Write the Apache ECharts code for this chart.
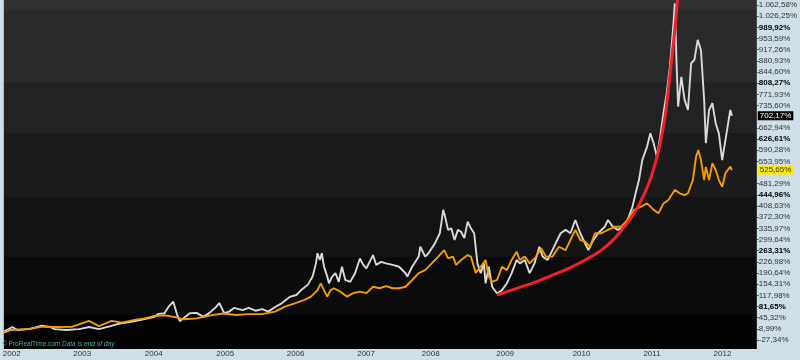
<!DOCTYPE html>
<html><head><meta charset="utf-8">
<script src="https://cdn.jsdelivr.net/npm/echarts@6/dist/echarts.min.js"></script>
<style>html,body{margin:0;padding:0;background:#cfdfe7;overflow:hidden}#c{width:800px;height:360px}</style>
</head><body><div id="c"></div>
<script>
// ---- data (decimal years / % change) ----
const yearLabels = [2002,2003,2004,2005,2006,2007,2008,2009,2010,2011,2012];
const yearTickAt = [2002.000,2002.992,2003.997,2005.003,2005.994,2006.986,2007.895,2008.942,2010.017,2011.008,2012.000];
const yTicks = [-27.34,8.99,45.32,81.65,117.98,154.31,190.64,226.98,263.31,299.64,335.97,372.30,408.63,444.96,481.29,553.95,590.28,626.61,662.94,735.60,771.93,808.27,844.60,880.93,917.26,953.59,989.92,1026.25,1062.58];
const majorTicks = [81.65,263.31,444.96,626.61,808.27,989.92];

const silverT = [2001.890,2002.010,2002.079,2002.262,2002.423,2002.537,2002.606,2002.767,2002.950,2003.088,2003.226,2003.364,2003.501,2003.680,2003.818,2004.011,2004.052,2004.149,2004.213,2004.273,2004.328,2004.365,2004.420,2004.507,2004.603,2004.696,2004.782,2004.879,2004.920,2004.989,2005.058,2005.127,2005.247,2005.333,2005.430,2005.522,2005.609,2005.705,2005.798,2005.912,2006.004,2006.073,2006.164,2006.233,2006.280,2006.302,2006.335,2006.362,2006.394,2006.439,2006.463,2006.508,2006.555,2006.601,2006.646,2006.693,2006.762,2006.831,2006.899,2006.945,2006.990,2007.083,2007.128,2007.197,2007.266,2007.358,2007.450,2007.541,2007.565,2007.634,2007.726,2007.748,2007.817,2007.863,2007.954,2008.023,2008.047,2008.070,2008.092,2008.139,2008.185,2008.230,2008.277,2008.322,2008.368,2008.415,2008.460,2008.506,2008.552,2008.598,2008.643,2008.667,2008.712,2008.759,2008.828,2008.897,2008.966,2009.034,2009.103,2009.149,2009.218,2009.287,2009.355,2009.424,2009.470,2009.539,2009.607,2009.676,2009.723,2009.792,2009.861,2009.930,2009.999,2010.044,2010.113,2010.182,2010.251,2010.343,2010.389,2010.457,2010.526,2010.618,2010.664,2010.733,2010.778,2010.825,2010.871,2010.939,2010.985,2011.032,2011.077,2011.123,2011.169,2011.215,2011.260,2011.307,2011.329,2011.352,2011.376,2011.421,2011.467,2011.514,2011.559,2011.605,2011.651,2011.697,2011.742,2011.766,2011.811,2011.858,2011.904,2011.949,2011.996,2012.041,2012.110,2012.133];
const silverPct = [0,15,5,9,19,15,8,5,8,15,8,16,25,32,38,48,57,60,83,97,54,34,44,60,61,48,61,81,93,60,65,77,70,77,68,73,65,80,92,113,119,135,152,179,222,255,233,255,211,179,157,179,190,162,211,168,162,190,238,217,206,249,217,227,222,217,211,190,179,211,244,276,244,255,287,320,357,396,379,331,336,298,331,325,304,358,336,320,222,190,222,157,211,146,124,135,157,190,233,222,233,190,222,276,244,233,265,298,320,331,320,363,320,298,265,298,320,341,363,341,331,341,363,406,450,493,558,602,645,613,569,634,710,775,862,992,1068,884,732,829,754,721,873,884,949,916,754,613,721,743,678,645,558,623,721,702.17];

const goldT = [2001.890,2001.986,2002.216,2002.441,2002.629,2002.854,2003.088,2003.226,2003.405,2003.543,2003.731,2003.869,2004.007,2004.145,2004.282,2004.420,2004.603,2004.782,2004.971,2005.154,2005.333,2005.522,2005.705,2005.843,2005.981,2006.118,2006.210,2006.302,2006.348,2006.394,2006.439,2006.486,2006.532,2006.624,2006.715,2006.807,2006.899,2006.990,2007.083,2007.175,2007.266,2007.358,2007.450,2007.541,2007.634,2007.726,2007.817,2007.909,2008.001,2008.084,2008.139,2008.208,2008.253,2008.322,2008.415,2008.460,2008.529,2008.598,2008.667,2008.712,2008.759,2008.828,2008.897,2008.966,2009.034,2009.103,2009.149,2009.218,2009.287,2009.379,2009.448,2009.516,2009.607,2009.700,2009.792,2009.861,2009.930,2009.999,2010.067,2010.136,2010.205,2010.296,2010.388,2010.480,2010.572,2010.664,2010.756,2010.847,2010.939,2011.032,2011.100,2011.169,2011.238,2011.329,2011.398,2011.467,2011.514,2011.583,2011.628,2011.660,2011.697,2011.742,2011.766,2011.811,2011.858,2011.904,2011.949,2011.996,2012.041,2012.110,2012.133];
const goldPct = [-3,5,8,16,15,16,35,18,35,29,38,43,51,53,48,40,43,52,59,54,57,57,65,81,92,103,114,135,157,135,114,135,141,130,114,125,130,125,146,141,148,141,141,146,168,190,200,222,244,265,238,244,217,233,249,244,191,211,233,179,162,168,211,200,233,260,233,244,222,244,271,244,244,276,265,298,331,298,293,276,320,320,331,341,341,363,396,406,417,396,385,417,428,461,450,444,450,493,569,591,558,493,536,493,548,526,493,471,515,537,525.65];

const curveT = [2008.828,2009.149,2009.379,2009.607,2009.838,2010.067,2010.296,2010.480,2010.618,2010.756,2010.847,2010.963,2011.054,2011.123,2011.192,2011.238,2011.284,2011.329,2011.366,2011.394];
const curvePct = [119,144,162,184,206,233,265,303,341,385,423,482,548,613,699,786,884,981,1079,1160];

// ---- styling ----
function hasFont(name){
  const c=document.createElement('canvas').getContext('2d');
  c.font='60px monospace'; const a=c.measureText('mmmwwwlli1.062,58%').width;
  c.font="60px '"+name+"',monospace"; const b=c.measureText('mmmwwwlli1.062,58%').width;
  return Math.abs(a-b)>0.5;
}
const narrow = hasFont('Liberation Sans Narrow') ? "'Liberation Sans Narrow'" : (hasFont('Arial Narrow') ? "'Arial Narrow'" : null);
const FONT = narrow ? narrow+",sans-serif" : "'Liberation Sans',sans-serif";
const FS = narrow ? 9 : 8;
const Y_MIN = -56.6, Y_MAX = 1078.85;
const bandStops = [[Y_MAX,1046,'#313131'],[1046,812,'#2a2a2a'],[812,646,'#222222'],[646,438,'#1b1b1b'],[438,243,'#131313'],[243,54,'#0b0b0b'],[54,Y_MIN,'#020202']];

function fmt(v){
  const neg = v < 0; let s = Math.abs(v).toFixed(2); let [i,d] = s.split('.');
  i = i.replace(/\B(?=(\d{3})+(?!\d))/g,'.');
  return (neg?'-':'') + i + ',' + d + '%';
}
const zip = (a,b) => a.map((t,i)=>[t,b[i]]);
const lastS = silverPct[silverPct.length-1], lastG = goldPct[goldPct.length-1];

const chart = echarts.init(document.getElementById('c'), null, {renderer:'canvas'});
chart.setOption({
  animation:false,
  backgroundColor:'#cfdfe7',
  grid:{left:3,right:28,top:0,bottom:11,containLabel:false,show:true,backgroundColor:'#000',borderWidth:0},
  xAxis:{type:'value',min:2001.890,max:2012.482,
    axisLine:{show:true,lineStyle:{color:'#8fa6b2',width:1}},
    axisTick:{show:true,customValues:yearTickAt,length:3,lineStyle:{color:'#7f8f99'}},
    axisLabel:{customValues:yearTickAt,formatter:v=>String(Math.round(v)),color:'#333',fontSize:FS,fontFamily:FONT,margin:1},
    splitLine:{show:false}},
  yAxis:{type:'value',position:'right',min:Y_MIN,max:Y_MAX,
    axisLine:{show:true,lineStyle:{color:'#8fa6b2'}},
    axisTick:{show:true,customValues:yTicks,length:2,lineStyle:{color:'#555'}},
    axisLabel:{customValues:yTicks,margin:2,
      formatter:v=>majorTicks.some(m=>Math.abs(m-v)<0.01)?'{b|'+fmt(v)+'}':'{n|'+fmt(v)+'}',
      rich:{n:{color:'#333',fontSize:FS,fontFamily:FONT},b:{color:'#000',fontSize:FS,fontWeight:'bold',fontFamily:FONT}}},
    splitLine:{show:false}},
  graphic:[
    {type:'text',left:2,top:341,z:100,style:{text:'© ProRealTime.com',fill:'#43b3a3',font:(FS-1.5)+"px "+FONT}},
    {type:'text',left:62,top:341,z:100,style:{text:'Data is end of day',fill:'#43b3a3',font:"italic "+(FS-1.5)+"px "+FONT}}
  ],
  series:[
    {name:'silver',type:'line',data:zip(silverT,silverPct),showSymbol:false,z:3,
      lineStyle:{color:'#d9d9d9',width:1.9},
      markArea:{silent:true,z:1,data:bandStops.map(b=>[{yAxis:b[0],itemStyle:{color:b[2]}},{yAxis:b[1]}])},
      markLine:{silent:true,symbol:'none',lineStyle:{width:0,color:'rgba(0,0,0,0)'},
        label:{show:true,position:'end',distance:1,formatter:fmt(lastS),backgroundColor:'#000',color:'#fff',fontSize:FS,fontFamily:FONT,padding:[1,2,0,2]},
        data:[{yAxis:lastS}]}},
    {name:'gold',type:'line',data:zip(goldT,goldPct),showSymbol:false,z:4,
      lineStyle:{color:'#f59c00',width:1.9},
      markLine:{silent:true,symbol:'none',lineStyle:{width:0,color:'rgba(0,0,0,0)'},
        label:{show:true,position:'end',distance:1,formatter:fmt(lastG),backgroundColor:'#ffe800',color:'#333',fontSize:FS,fontFamily:FONT,padding:[1,2,0,2]},
        data:[{yAxis:lastG}]}},
    {name:'curve',type:'line',data:zip(curveT,curvePct),showSymbol:false,smooth:true,z:5,
      lineStyle:{color:'#f2202c',width:3}}
  ]
});
</script></body></html>
